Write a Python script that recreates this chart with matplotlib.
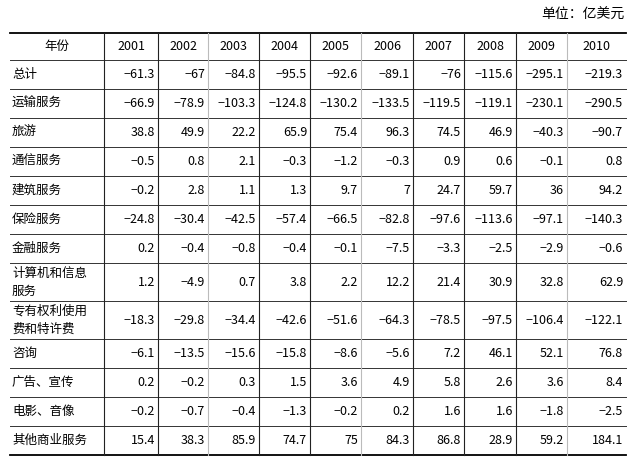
import matplotlib
matplotlib.use("Agg")
import matplotlib.pyplot as plt

plt.rcParams['font.family'] = ['Noto Sans CJK SC', 'DejaVu Sans']

years = ["2001","2002","2003","2004","2005","2006","2007","2008","2009","2010"]
categories = ["总计","运输服务","旅游","通信服务","建筑服务","保险服务","金融服务",
              "计算机和信息\n服务","专有权利使用\n费和特许费","咨询","广告、宣传","电影、音像","其他商业服务"]
v_total = [-61.3,-67,-84.8,-95.5,-92.6,-89.1,-76,-115.6,-295.1,-219.3]
v_transport = [-66.9,-78.9,-103.3,-124.8,-130.2,-133.5,-119.5,-119.1,-230.1,-290.5]
v_travel = [38.8,49.9,22.2,65.9,75.4,96.3,74.5,46.9,-40.3,-90.7]
v_comm = [-0.5,0.8,2.1,-0.3,-1.2,-0.3,0.9,0.6,-0.1,0.8]
v_constr = [-0.2,2.8,1.1,1.3,9.7,7,24.7,59.7,36,94.2]
v_insur = [-24.8,-30.4,-42.5,-57.4,-66.5,-82.8,-97.6,-113.6,-97.1,-140.3]
v_fin = [0.2,-0.4,-0.8,-0.4,-0.1,-7.5,-3.3,-2.5,-2.9,-0.6]
v_comp = [1.2,-4.9,0.7,3.8,2.2,12.2,21.4,30.9,32.8,62.9]
v_royal = [-18.3,-29.8,-34.4,-42.6,-51.6,-64.3,-78.5,-97.5,-106.4,-122.1]
v_consult = [-6.1,-13.5,-15.6,-15.8,-8.6,-5.6,7.2,46.1,52.1,76.8]
v_adv = [0.2,-0.2,0.3,1.5,3.6,4.9,5.8,2.6,3.6,8.4]
v_film = [-0.2,-0.7,-0.4,-1.3,-0.2,0.2,1.6,1.6,-1.8,-2.5]
v_other = [15.4,38.3,85.9,74.7,75,84.3,86.8,28.9,59.2,184.1]
values = [v_total,v_transport,v_travel,v_comm,v_constr,v_insur,v_fin,v_comp,v_royal,
          v_consult,v_adv,v_film,v_other]

W, H = 632, 474
fig = plt.figure(figsize=(W/100, H/100), dpi=100)
ax = fig.add_axes([0,0,1,1])
ax.set_xlim(0, W); ax.set_ylim(H, 0); ax.axis('off')

def fmt(v):
    s = f"{v:g}"
    return s.replace("-", "−")

col_x = [10,104,158,208,259,310,361,413,464,516,567,626]
top = 33
s = 29; d = 38
heights = [27] + [d if "\n" in c else s for c in categories]
row_y = [top]
for h in heights:
    row_y.append(row_y[-1]+h)
bottom = row_y[-1]

ax.text(624, 15, "单位：亿美元", ha='right', va='center', fontsize=10)
ax.plot([col_x[0], col_x[-1]], [top, top], color='black', lw=1.3)
ax.plot([col_x[0], col_x[-1]], [bottom, bottom], color='black', lw=1.3)
for y in row_y[1:-1]:
    ax.plot([col_x[0], col_x[-1]], [y, y], color='#333333', lw=0.7)
for i, x in enumerate(col_x[1:-1]):
    c = '#bbbbbb' if i in (2, 5, 9) else '#222222'
    ax.plot([x, x], [top, bottom], color=c, lw=0.8)

fs = 9
ax.text((col_x[0]+col_x[1])/2, (row_y[0]+row_y[1])/2, "年份", ha='center', va='center', fontsize=fs)
for j, yr in enumerate(years):
    ax.text((col_x[j+1]+col_x[j+2])/2, (row_y[0]+row_y[1])/2, yr, ha='center', va='center', fontsize=fs)
for i, cat in enumerate(categories):
    yc = (row_y[i+1]+row_y[i+2])/2
    ax.text(col_x[0]+2, yc, cat, ha='left', va='center', fontsize=fs, linespacing=1.5)
    for j, v in enumerate(values[i]):
        ax.text(col_x[j+2]-3, yc, fmt(v), ha='right', va='center', fontsize=fs)

fig.savefig("out.png", dpi=100)
